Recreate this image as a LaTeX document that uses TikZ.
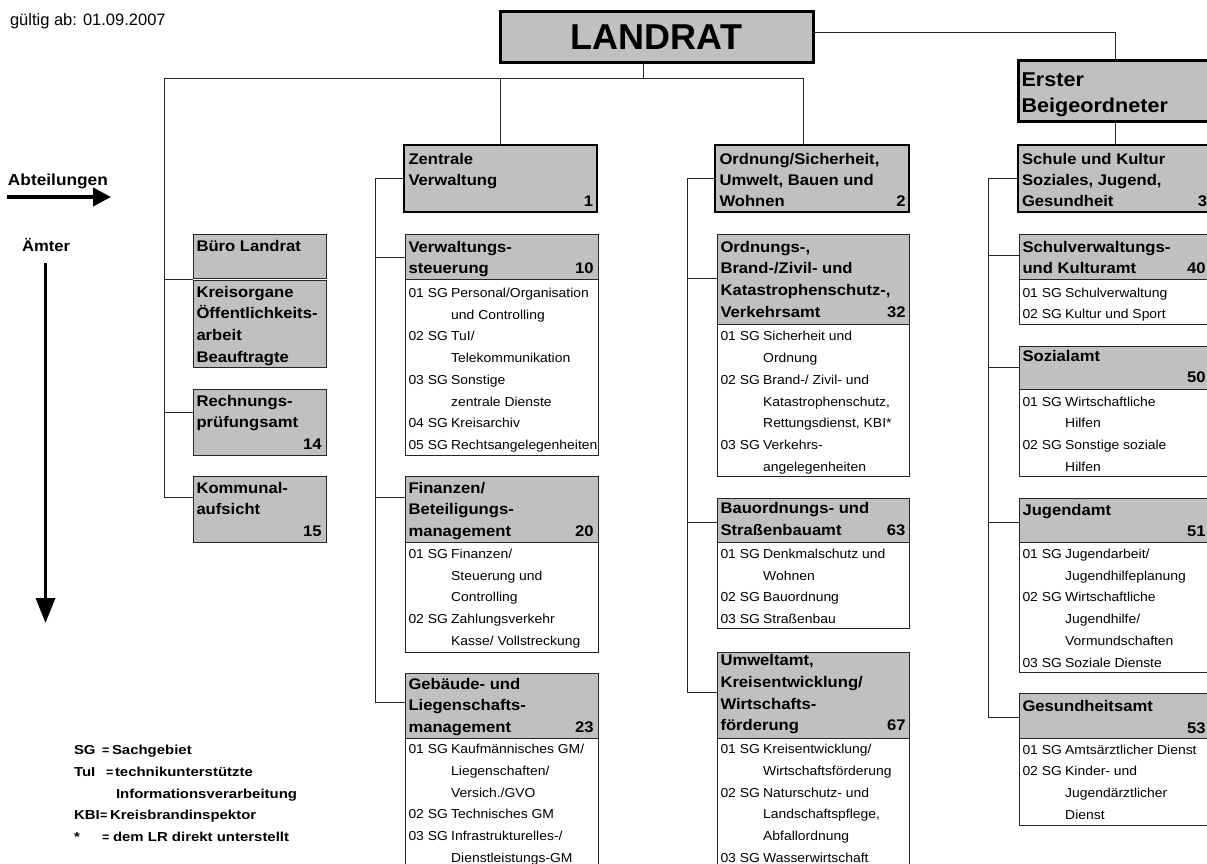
\documentclass[tikz,border=0pt]{standalone}
\usepackage{fontspec}
\setmainfont{Liberation Sans}
\newfontfamily\bodyf[FakeStretch=1.07]{Liberation Sans}
\newfontfamily\hdrf[FakeStretch=1.08]{Liberation Sans}
\newfontfamily\legf[FakeStretch=1.15]{Liberation Sans}
\usetikzlibrary{arrows.meta}
\definecolor{boxgray}{RGB}{192,192,192}
\newcommand\sgc[1]{\makebox[42.7pt][l]{#1}}
\newcommand\nrow[3]{\hbox to #1{#2\hfill #3}}
\newcommand\legeq[1]{\makebox[#1][l]{{\rmfamily\bfseries\fontsize{12.5}{10}\selectfont=}}}
\tikzset{
  conn/.style={draw=black!85, line width=1pt},
  abox/.style={draw=black!85, line width=1pt, fill=boxgray, inner sep=0pt, outer sep=0pt, anchor=north west, minimum width=193pt},
  lbox/.style={draw=black!85, line width=1pt, fill=white, inner sep=0pt, outer sep=0pt, anchor=north west, minimum width=193pt},
  dbox/.style={abox, draw=black, line width=2pt, minimum height=67pt},
  tbox/.style={draw=black, line width=3pt, fill=boxgray, inner sep=0pt, outer sep=0pt},
  htxt/.style={anchor=north west, inner sep=0pt, outer sep=0pt, font=\hdrf\bfseries\fontsize{15.4}{21.75}\selectfont},
  dtxt/.style={anchor=north west, inner sep=0pt, outer sep=0pt, font=\hdrf\bfseries\fontsize{15.4}{21}\selectfont},
  btxt/.style={anchor=north west, inner sep=0pt, outer sep=0pt, font=\bodyf\fontsize{13}{21.75}\selectfont},
  ltxt/.style={anchor=north west, inner sep=0pt, outer sep=0pt, font=\legf\bfseries\fontsize{13}{21.75}\selectfont},
  etxt/.style={anchor=north west, inner sep=0pt, outer sep=0pt, font=\hdrf\bfseries\fontsize{20}{26}\selectfont},
  ftxt/.style={anchor=base west, inner sep=0pt, outer sep=0pt},
  arr/.style={line width=4pt, -{Triangle[length=18pt,width=18pt]}},
}
\begin{document}
\begin{tikzpicture}[x=1pt,y=-1pt]
\useasboundingbox (0,0) rectangle (1207,864);
\clip (0,0) rectangle (1207,864);

% ---------- free texts and legend ----------
\node[ftxt, font=\fontsize{16.5}{19}\selectfont] (valid) at (10,26) {gültig ab: 01.09.2007};
\node[ftxt, font=\hdrf\bfseries\fontsize{16}{19}\selectfont] (abt) at (8,185) {Abteilungen};
\coordinate (abA) at (7,197);
\coordinate (abB) at (111,197);
\draw[arr] (abA) -- (abB);
\node[ftxt, font=\hdrf\bfseries\fontsize{15.4}{19}\selectfont] (aemter) at (22,251) {Ämter};
\coordinate (amA) at (45.5,263);
\coordinate (amB) at (45.5,623);
\draw[line width=3.5pt, -{Triangle[length=25pt,width=19pt]}] (amA) -- (amB);

\node[ltxt] (legend) at (74,739.3) {\begin{tabular}{@{}l@{}}
\makebox[28pt][l]{SG}\legeq{10pt}Sachgebiet\\
\makebox[32pt][l]{TuI}\legeq{9pt}technikunterstützte\\
\hspace*{42pt}Informationsverarbeitung\\
\makebox[26pt][l]{KBI}\legeq{10pt}Kreisbrandinspektor\\
\makebox[28pt][l]{*}\legeq{11pt}dem LR direkt unterstellt
\end{tabular}};

% ---------- top level ----------
\node[tbox, anchor=north west, minimum width=313pt, minimum height=51pt, font=\bfseries\fontsize{36}{40}\selectfont] (lr) at (500,12) {LANDRAT};
\node[tbox, anchor=north west, minimum width=194pt, minimum height=61pt] (eb) at (1018,61) {};
\node[etxt] (ebt) at (1021.5,68.8) {\begin{tabular}{@{}l@{}}Erster\\Beigeordneter\end{tabular}};

% ---------- departments ----------
\node[dbox, minimum width=193pt] (zv) at (404,145) {};
\node[dtxt] (zvt) at (408.5,149.8) {\begin{tabular}{@{}l@{}}Zentrale\\Verwaltung\\\nrow{184.5pt}{}{1}\end{tabular}};
\node[dbox, minimum width=194pt] (od) at (715,145) {};
\node[dtxt] (odt) at (719.5,149.8) {\begin{tabular}{@{}l@{}}Ordnung/Sicherheit,\\Umwelt, Bauen und\\\nrow{186pt}{Wohnen}{2}\end{tabular}};
\node[dbox, minimum width=194pt] (sk) at (1018,145) {};
\node[dtxt] (skt) at (1022,149.8) {\begin{tabular}{@{}l@{}}Schule und Kultur\\Soziales, Jugend,\\\nrow{185pt}{Gesundheit}{3}\end{tabular}};

% ---------- column A ----------
\node[abox, minimum width=133pt, minimum height=44pt] (buero) at (193,234) {};
\node[htxt] (bueroT) at (196.5,235.8) {\begin{tabular}{@{}l@{}}Büro Landrat\end{tabular}};
\node[abox, minimum width=133pt, minimum height=86.5pt] (kreis) at (193,280.5) {};
\node[htxt] (kreisT) at (196.5,281.8) {\begin{tabular}{@{}l@{}}Kreisorgane\\Öffentlichkeits-\\arbeit\\Beauftragte\end{tabular}};
\node[abox, minimum width=133pt, minimum height=66pt] (rech) at (193,389) {};
\node[htxt] (rechT) at (196.5,390.8) {\begin{tabular}{@{}l@{}}Rechnungs-\\prüfungsamt\\\nrow{125pt}{}{14}\end{tabular}};
\node[abox, minimum width=133pt, minimum height=66pt] (komm) at (193,476) {};
\node[htxt] (kommT) at (196.5,477.8) {\begin{tabular}{@{}l@{}}Kommunal-\\aufsicht\\\nrow{125pt}{}{15}\end{tabular}};

% ---------- column B ----------
\node[abox, minimum height=45pt] (vsH) at (405,234) {};
\node[lbox, minimum height=176pt] (vsL) at (405,279) {};
\node[htxt] (vsHT) at (408.5,236.8) {\begin{tabular}{@{}l@{}}Verwaltungs-\\\nrow{185pt}{steuerung}{10}\end{tabular}};
\node[btxt] (vsLT) at (408.5,282.1) {\begin{tabular}{@{}l@{}}
\sgc{01 SG}Personal/Organisation\\
\sgc{}und Controlling\\
\sgc{02 SG}TuI/\\
\sgc{}Telekommunikation\\
\sgc{03 SG}Sonstige\\
\sgc{}zentrale Dienste\\
\sgc{04 SG}Kreisarchiv\\
\sgc{05 SG}Rechtsangelegenheiten
\end{tabular}};

\node[abox, minimum height=66pt] (finH) at (405,476) {};
\node[lbox, minimum height=110pt] (finL) at (405,542) {};
\node[htxt] (finHT) at (408.5,477.8) {\begin{tabular}{@{}l@{}}Finanzen/\\Beteiligungs-\\\nrow{185pt}{management}{20}\end{tabular}};
\node[btxt] (finLT) at (408.5,543.1) {\begin{tabular}{@{}l@{}}
\sgc{01 SG}Finanzen/\\
\sgc{}Steuerung und\\
\sgc{}Controlling\\
\sgc{02 SG}Zahlungsverkehr\\
\sgc{}Kasse/ Vollstreckung
\end{tabular}};

\node[abox, minimum height=65pt] (gebH) at (405,673) {};
\node[lbox, minimum height=135pt] (gebL) at (405,738) {};
\node[htxt] (gebHT) at (408.5,673.8) {\begin{tabular}{@{}l@{}}Gebäude- und\\Liegenschafts-\\\nrow{185pt}{management}{23}\end{tabular}};
\node[btxt] (gebLT) at (408.5,738.3) {\begin{tabular}{@{}l@{}}
\sgc{01 SG}Kaufmännisches GM/\\
\sgc{}Liegenschaften/\\
\sgc{}Versich./GVO\\
\sgc{02 SG}Technisches GM\\
\sgc{03 SG}Infrastrukturelles-/\\
\sgc{}Dienstleistungs-GM
\end{tabular}};

% ---------- column C ----------
\node[abox, minimum width=192pt, minimum height=90pt] (ordH) at (717,234) {};
\node[lbox, minimum width=192pt, minimum height=152pt] (ordL) at (717,324) {};
\node[htxt] (ordHT) at (720.5,236.8) {\begin{tabular}{@{}l@{}}Ordnungs-,\\Brand-/Zivil- und\\Katastrophenschutz-,\\\nrow{185pt}{Verkehrsamt}{32}\end{tabular}};
\node[btxt] (ordLT) at (720.5,325.6) {\begin{tabular}{@{}l@{}}
\sgc{01 SG}Sicherheit und\\
\sgc{}Ordnung\\
\sgc{02 SG}Brand-/ Zivil- und\\
\sgc{}Katastrophenschutz,\\
\sgc{}Rettungsdienst, KBI*\\
\sgc{03 SG}Verkehrs-\\
\sgc{}angelegenheiten
\end{tabular}};

\node[abox, minimum width=192pt, minimum height=44pt] (bauH) at (717,498) {};
\node[lbox, minimum width=192pt, minimum height=86pt] (bauL) at (717,542) {};
\node[htxt] (bauHT) at (720.5,498.3) {\begin{tabular}{@{}l@{}}Bauordnungs- und\\\nrow{185pt}{Straßenbauamt}{63}\end{tabular}};
\node[btxt] (bauLT) at (720.5,543.1) {\begin{tabular}{@{}l@{}}
\sgc{01 SG}Denkmalschutz und\\
\sgc{}Wohnen\\
\sgc{02 SG}Bauordnung\\
\sgc{03 SG}Straßenbau
\end{tabular}};

\node[abox, minimum width=192pt, minimum height=86pt] (umwH) at (717,652) {};
\node[lbox, minimum width=192pt, minimum height=135pt] (umwL) at (717,738) {};
\node[htxt] (umwHT) at (720.5,650.3) {\begin{tabular}{@{}l@{}}Umweltamt,\\Kreisentwicklung/\\Wirtschafts-\\\nrow{185pt}{förderung}{67}\end{tabular}};
\node[btxt] (umwLT) at (720.5,738.3) {\begin{tabular}{@{}l@{}}
\sgc{01 SG}Kreisentwicklung/\\
\sgc{}Wirtschaftsförderung\\
\sgc{02 SG}Naturschutz- und\\
\sgc{}Landschaftspflege,\\
\sgc{}Abfallordnung\\
\sgc{03 SG}Wasserwirtschaft
\end{tabular}};

% ---------- column D ----------
\node[abox, minimum height=45pt] (schulH) at (1019,234) {};
\node[lbox, minimum height=45pt] (schulL) at (1019,279) {};
\node[htxt] (schulHT) at (1022.5,236.8) {\begin{tabular}{@{}l@{}}Schulverwaltungs-\\\nrow{183pt}{und Kulturamt}{40}\end{tabular}};
\node[btxt] (schulLT) at (1022.5,281.8) {\begin{tabular}{@{}l@{}}
\sgc{01 SG}Schulverwaltung\\
\sgc{02 SG}Kultur und Sport
\end{tabular}};

\node[abox, minimum height=43pt] (sozH) at (1019,346) {};
\node[lbox, minimum height=87pt] (sozL) at (1019,389) {};
\node[htxt] (sozHT) at (1022.5,345.8) {\begin{tabular}{@{}l@{}}Sozialamt\\\nrow{183pt}{}{50}\end{tabular}};
\node[btxt] (sozLT) at (1022.5,390.8) {\begin{tabular}{@{}l@{}}
\sgc{01 SG}Wirtschaftliche\\
\sgc{}Hilfen\\
\sgc{02 SG}Sonstige soziale\\
\sgc{}Hilfen
\end{tabular}};

\node[abox, minimum height=44pt] (jugH) at (1019,498) {};
\node[lbox, minimum height=130pt] (jugL) at (1019,542) {};
\node[htxt] (jugHT) at (1022.5,499.8) {\begin{tabular}{@{}l@{}}Jugendamt\\\nrow{183pt}{}{51}\end{tabular}};
\node[btxt] (jugLT) at (1022.5,543.1) {\begin{tabular}{@{}l@{}}
\sgc{01 SG}Jugendarbeit/\\
\sgc{}Jugendhilfeplanung\\
\sgc{02 SG}Wirtschaftliche\\
\sgc{}Jugendhilfe/\\
\sgc{}Vormundschaften\\
\sgc{03 SG}Soziale Dienste
\end{tabular}};

\node[abox, minimum height=45pt] (gesH) at (1019,693) {};
\node[lbox, minimum height=87pt] (gesL) at (1019,738) {};
\node[htxt] (gesHT) at (1022.5,696.3) {\begin{tabular}{@{}l@{}}Gesundheitsamt\\\nrow{183pt}{}{53}\end{tabular}};
\node[btxt] (gesLT) at (1022.5,738.8) {\begin{tabular}{@{}l@{}}
\sgc{01 SG}Amtsärztlicher Dienst\\
\sgc{02 SG}Kinder- und\\
\sgc{}Jugendärztlicher\\
\sgc{}Dienst
\end{tabular}};

% ---------- connectors ----------
\coordinate (busL) at (164,79);
\coordinate (busR) at (803,79);
\coordinate (lrb) at ([xshift=-13.5pt]lr.south);
\coordinate (lre) at ([yshift=4.5pt]lr.east);
\draw[conn] (lrb) -- (lrb |- busL);
\draw[conn] (busL) -- (busR) -- (busR |- od.north);
\draw[conn] (zv.north) -- (zv.north |- busL);
\draw[conn] (lre) -| (eb.north);
\draw[conn] (eb.south) -- (sk.north);

% column A
\draw[conn] (busL) |- ([yshift=-21pt]komm.north west);
\draw[conn] ([yshift=-1.2pt]buero.south west) -- +(-29,0);
\draw[conn] ([yshift=-23pt]rech.north west) -- +(-29,0);

% column B
\draw[conn] (zv.west) -| ([xshift=-30pt,yshift=-29pt]gebH.north west) -- ([yshift=-29pt]gebH.north west);
\draw[conn] ([yshift=-23pt]vsH.north west) -- +(-30,0);
\draw[conn] ([yshift=-21pt]finH.north west) -- +(-30,0);

% column C
\draw[conn] (od.west) -| ([xshift=-30pt,yshift=-40pt]umwH.north west) -- ([yshift=-40pt]umwH.north west);
\draw[conn] ([yshift=-44pt]ordH.north west) -- +(-30,0);
\draw[conn] ([yshift=-24pt]bauH.north west) -- +(-30,0);

% column D
\draw[conn] (sk.west) -| ([xshift=-31pt,yshift=-24pt]gesH.north west) -- ([yshift=-24pt]gesH.north west);
\draw[conn] ([yshift=-21pt]schulH.north west) -- +(-31,0);
\draw[conn] ([yshift=-21pt]sozH.north west) -- +(-31,0);
\draw[conn] ([yshift=-24pt]jugH.north west) -- +(-31,0);
\end{tikzpicture}
\end{document}
